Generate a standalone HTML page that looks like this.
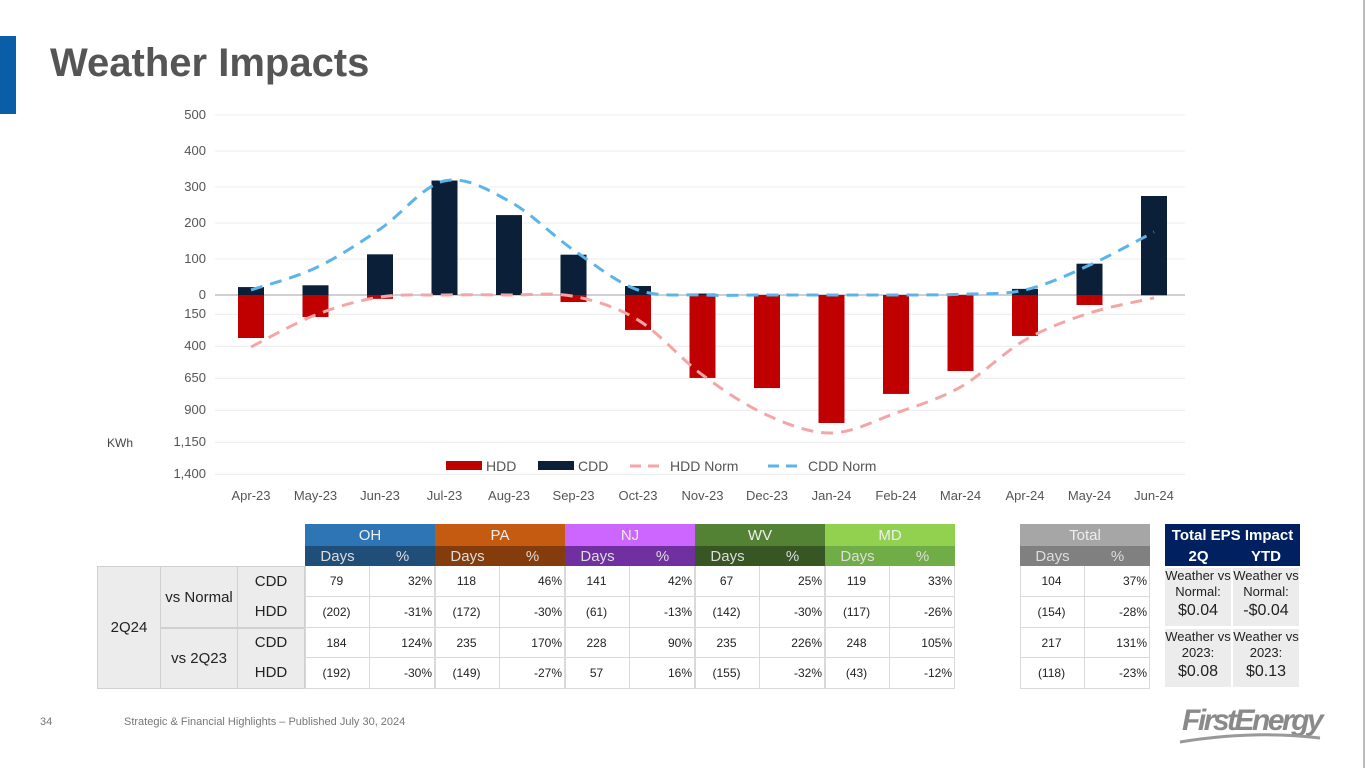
<!DOCTYPE html>
<html><head><meta charset="utf-8"><style>
body{margin:0;width:1365px;height:768px;background:#fff;position:relative;overflow:hidden;font-family:"Liberation Sans",Arial,sans-serif}
.a{position:absolute}
.c{position:absolute;box-sizing:border-box;display:flex;align-items:center;justify-content:center;font-size:14px}
.n{position:absolute;box-sizing:border-box;font-size:12px;color:#222;text-align:right;padding-right:2px;line-height:30px;border-right:1px solid #d9d9d9;border-bottom:1px solid #d9d9d9}
</style></head><body>
<div class="a" style="left:0;top:36px;width:16px;height:78px;background:#0a5ea8"></div>
<div class="a" style="left:50px;top:41px;font-size:40px;font-weight:bold;color:#555">Weather Impacts</div>
<div class="a" style="left:1363px;top:0;width:2px;height:768px;background:#bbb"></div>
<svg class="a" style="left:0;top:0" width="1365" height="510" id="chart"></svg>
<div id="tbl"></div>
<div class="a" style="left:40px;top:716px;font-size:11px;color:#777">34</div>
<div class="a" style="left:124px;top:716px;font-size:11px;color:#777">Strategic &amp; Financial Highlights – Published July 30, 2024</div>
<div class="a" style="left:1182px;top:704px;font-size:30px;font-weight:bold;font-style:italic;color:#8a8a8a;letter-spacing:-2.5px">FirstEnergy</div>
<svg class="a" style="left:1175px;top:730px" width="160" height="16"><path d="M5 12 Q80 0 145 8" stroke="#999" stroke-width="3" fill="none"/></svg>
<script>
const categories=["Apr-23","May-23","Jun-23","Jul-23","Aug-23","Sep-23","Oct-23","Nov-23","Dec-23","Jan-24","Feb-24","Mar-24","Apr-24","May-24","Jun-24"];
const cdd=[22,27,113,318,222,112,25,4,0,0,0,0,17,87,275];
const hdd=[336,172,30,0,0,55,273,648,727,1000,773,594,320,78,2];
const cddNorm=[14,75,183,317,261,125,14,0,0,0,0,2,14,83,175];
const hddNorm=[406,156,16,0,0,10,195,625,938,1078,922,719,352,141,23];
const upTicks=[0,100,200,300,400,500];
const downTicks=[150,400,650,900,1150,1400];
const svg=document.getElementById('chart');const NS='http://www.w3.org/2000/svg';
const x=i=>251+i*64.5, yU=v=>295-v*0.36, yD=v=>295+v*0.128;
function mk(t,a,p){const e=document.createElementNS(NS,t);for(const k in a)e.setAttribute(k,a[k]);(p||svg).appendChild(e);return e;}
upTicks.forEach(v=>{const g=mk('line',{x1:215,x2:1185,y1:yU(v),y2:yU(v),stroke:v===0?'#d0d0d0':'#ececec','stroke-width':v===0?2:1});
const t=mk('text',{x:206,y:yU(v)+4,'text-anchor':'end','font-size':13,fill:'#555'});t.textContent=v;});
downTicks.forEach(v=>{const g=mk('line',{x1:215,x2:1185,y1:yD(v),y2:yD(v),stroke:'#ececec'});
const t=mk('text',{x:206,y:yD(v)+4,'text-anchor':'end','font-size':13,fill:'#555'});t.textContent=v.toLocaleString('en-US');});
const ku=mk('text',{x:107,y:447,'font-size':12,fill:'#444'});ku.textContent='KWh';
categories.forEach((c,i)=>{
const b1=mk('rect',{x:x(i)-13,y:yU(cdd[i]),width:26,height:cdd[i]*0.36,fill:'#0b1f38'});
const b2=mk('rect',{x:x(i)-13,y:295,width:26,height:hdd[i]*0.128,fill:'#c00000'});
const t=mk('text',{x:x(i),y:500,'text-anchor':'middle','font-size':13,fill:'#555'});t.textContent=c;});
function spline(pts){let d='M'+pts[0][0]+' '+pts[0][1];for(let i=0;i<pts.length-1;i++){const p0=pts[Math.max(0,i-1)],p1=pts[i],p2=pts[i+1],p3=pts[Math.min(pts.length-1,i+2)];
d+=` C${p1[0]+(p2[0]-p0[0])/6} ${p1[1]+(p2[1]-p0[1])/6} ${p2[0]-(p3[0]-p1[0])/6} ${p2[1]-(p3[1]-p1[1])/6} ${p2[0]} ${p2[1]}`;}return d;}
const l1=mk('path',{d:spline(hddNorm.map((v,i)=>[x(i),yD(v)])),stroke:'#f4a6a6','stroke-width':3,fill:'none','stroke-dasharray':'12 8'});
const l2=mk('path',{d:spline(cddNorm.map((v,i)=>[x(i),yU(v)])),stroke:'#5bb4ea','stroke-width':3,fill:'none','stroke-dasharray':'12 8'});
[['HDD','#c00000',446,'rect'],['CDD','#0b1f38',538,'rect'],['HDD Norm','#f4a6a6',630,'line'],['CDD Norm','#5bb4ea',768,'line']].forEach(([n,c,lx,k])=>{
const g=mk('g',{});
if(k==='rect')mk('rect',{x:lx,y:461,width:36,height:9,fill:c},g);else mk('line',{x1:lx,x2:lx+36,y1:466,y2:466,stroke:c,'stroke-width':3,'stroke-dasharray':'11 7'},g);
const t=mk('text',{x:lx+40,y:471,'font-size':14,fill:'#555'},g);t.textContent=n;});
const T=document.getElementById('tbl');
function cell(l,t,w,h,txt,st,name){const d=document.createElement('div');d.className='c';d.style.cssText=`left:${l}px;top:${t}px;width:${w}px;height:${h}px;`+st;d.innerHTML=txt;T.appendChild(d);return d;}
const states=[['OH','#2e75b6','#1f4e79',305],['PA','#c55a11','#843c0c',435],['NJ','#cc66ff','#7030a0',565],['WV','#548235','#375623',695],['MD','#92d050','#70ad47',825],['Total','#a6a6a6','#808080',1020]];
const vals=[["79","32%","118","46%","141","42%","67","25%","119","33%","104","37%"],
["(202)","-31%","(172)","-30%","(61)","-13%","(142)","-30%","(117)","-26%","(154)","-28%"],
["184","124%","235","170%","228","90%","235","226%","248","105%","217","131%"],
["(192)","-30%","(149)","-27%","57","16%","(155)","-32%","(43)","-12%","(118)","-23%"]];
const rowY=[566,597,628,658,689];
states.forEach((s,j)=>{cell(s[3],524,130,22,s[0],`background:${s[1]};color:#eee;font-size:15px`,'state-header');
cell(s[3],546,65,20,'Days',`background:${s[2]};color:#ddd;font-size:15px`,'days-header');
cell(s[3]+65,546,65,20,'%',`background:${s[2]};color:#ddd;font-size:15px`,'pct-header');
vals.forEach((r,i)=>{[0,1].forEach(k=>{const d=document.createElement('div');d.className='n';d.style.cssText=`left:${s[3]+k*65}px;top:${rowY[i]}px;width:65px;height:${rowY[i+1]-rowY[i]}px;`+(k===0?'text-align:center;':'')+(k===0?'border-left:1px solid #d9d9d9;':'');d.textContent=r[j*2+k];T.appendChild(d);});});});
const g='background:#ececec;color:#222;font-size:15px;border:1px solid #d0d0d0;';
cell(97,566,64,123,'2Q24',g,'period-label');
cell(160,566,78,62,'vs Normal',g,'comparison-label');
cell(160,628,78,61,'vs 2Q23',g,'comparison-label');
cell(237,566,68,62,'<div style="text-align:center;line-height:30px;padding-top:4px">CDD<br>HDD</div>',g+'align-items:flex-end;','type-label');
cell(237,628,68,61,'<div style="text-align:center;line-height:30px;padding-top:4px">CDD<br>HDD</div>',g+'align-items:flex-end;','type-label');
cell(1165,524,135,22,'Total EPS Impact','background:#002060;color:#fff;font-weight:bold;font-size:15px','eps-header');
cell(1165,546,67,20,'2Q','background:#002060;color:#fff;font-weight:bold;font-size:15px','eps-2q-header');
cell(1232,546,68,20,'YTD','background:#002060;color:#fff;font-weight:bold;font-size:15px','eps-ytd-header');
const eps=[['Normal:','$0.04','-$0.04'],['2023:','$0.08','$0.13']];
eps.forEach((e,i)=>{[0,1].forEach(k=>{cell(1165+k*67+(k?1:0),568+i*61,66,58,`<div style="text-align:center;line-height:16px">Weather vs<br>${e[0]}<br><span style="font-size:16px;line-height:22px">${e[1+k]}</span></div>`,'background:#ececec;color:#222;font-size:13px;align-items:flex-start;','eps-value');});});
</script>
</body></html>
